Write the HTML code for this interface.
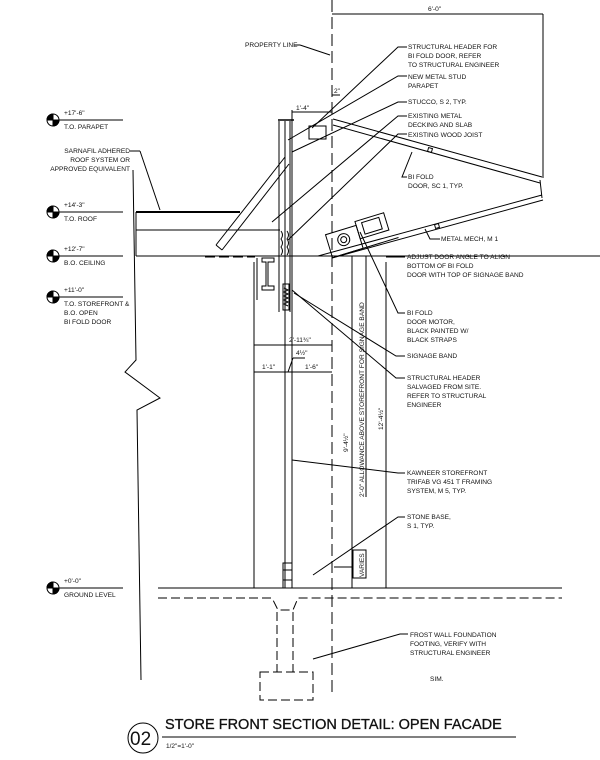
<!DOCTYPE html>
<html><head><meta charset="utf-8"><style>
html,body{margin:0;padding:0;background:#fff}
svg{display:block}
text{font-family:"Liberation Sans",sans-serif;font-size:6.6px;fill:#111}
</style></head><body>
<svg width="600" height="760" viewBox="0 0 600 760" xmlns="http://www.w3.org/2000/svg" stroke="#000" fill="none" stroke-width="1">
<line x1="332" y1="0" x2="332" y2="692" stroke-dasharray="12,5"/>
<text x="245" y="47" stroke="none">PROPERTY LINE</text>
<line x1="294" y1="45" x2="300" y2="45"/>
<line x1="300" y1="45" x2="330" y2="55"/>
<line x1="332" y1="14" x2="543" y2="14"/>
<line x1="543" y1="14" x2="543" y2="178"/>
<text x="428" y="11" stroke="none">6'-0"</text>
<line x1="333" y1="119" x2="542" y2="177"/>
<line x1="333" y1="125" x2="540" y2="183"/>
<rect x="428" y="148" width="4" height="4" transform="rotate(15 430 150)"/>
<line x1="540" y1="180" x2="542" y2="198"/>
<line x1="318" y1="256" x2="542" y2="195"/>
<line x1="332" y1="258" x2="543" y2="200"/>
<rect x="435" y="224" width="4" height="4" transform="rotate(-15 437 226)"/>
<g transform="rotate(-17 355 232)">
<rect x="326" y="226" width="32" height="24"/>
<circle cx="342" cy="236" r="6"/><circle cx="342" cy="236" r="3"/>
<rect x="358" y="222" width="30" height="18"/>
<rect x="364" y="225" width="18" height="12"/>
<line x1="326" y1="250" x2="395" y2="250"/>
</g>
<line x1="292" y1="112" x2="332" y2="112"/>
<line x1="292" y1="110" x2="292" y2="122"/>
<text x="296" y="110" stroke="none">1'-4"</text>
<line x1="332" y1="95" x2="340" y2="95"/><text x="334" y="93" stroke="none">2"</text>
<rect x="309" y="126" width="17" height="13"/>
<line x1="278" y1="120" x2="294" y2="120" stroke-width="1.5"/>
<line x1="279" y1="121" x2="279" y2="312"/>
<line x1="285" y1="121" x2="285" y2="588"/>
<line x1="292" y1="121" x2="292" y2="588"/>
<line x1="290" y1="121" x2="290" y2="312"/>
<path d="M281 231 q3 4 0 8 q3 4 0 8 q3 4 0 8 M287 231 q3 4 0 8 q3 4 0 8 q3 4 0 8"/>
<path d="M283 284 h6 v26 h-6z"/>
<path d="M284 288 l4 2 l-4 2 l4 2 l-4 2 l4 2 l-4 2 l4 2 l-4 2 l4 2"/>
<path d="M262 258 h12 v4 h-6 v24 h6 v4 h-12 v-4 h4 v-24 h-4z"/>
<line x1="257" y1="258" x2="257" y2="300"/>
<line x1="136" y1="212" x2="240" y2="212" stroke-width="2"/>
<line x1="136" y1="230" x2="280" y2="230"/>
<line x1="136" y1="256" x2="600" y2="256"/>
<line x1="136" y1="212" x2="136" y2="256"/>
<line x1="205" y1="257" x2="255" y2="257" stroke-dasharray="10,4"/>
<line x1="216" y1="245" x2="285" y2="157"/>
<line x1="222" y1="250" x2="289" y2="164"/>
<line x1="216" y1="245" x2="222" y2="250"/>
<path d="M133 170 L136 360 L125 372 L160 398 L137 410 L141 680"/>
<text x="130" y="153" stroke="none" text-anchor="end">SARNAFIL ADHERED</text>
<text x="130" y="162" stroke="none" text-anchor="end">ROOF SYSTEM OR</text>
<text x="130" y="171" stroke="none" text-anchor="end">APPROVED EQUIVALENT</text>
<line x1="130" y1="151" x2="140" y2="151"/><line x1="140" y1="151" x2="160" y2="210"/>
<g>
<g transform="translate(0,120)"><circle cx="53" cy="0" r="6" fill="#fff"/><path d="M53 -6 A6 6 0 0 0 47 0 H53Z M53 6 A6 6 0 0 0 59 0 H53Z" fill="#000"/><line x1="47" y1="0" x2="123" y2="0"/><text x="64" y="-5" stroke="none">+17'-6"</text><text x="64" y="9" stroke="none">T.O. PARAPET</text></g>
<g transform="translate(0,212)"><circle cx="53" cy="0" r="6" fill="#fff"/><path d="M53 -6 A6 6 0 0 0 47 0 H53Z M53 6 A6 6 0 0 0 59 0 H53Z" fill="#000"/><line x1="47" y1="0" x2="123" y2="0"/><text x="64" y="-5" stroke="none">+14'-3"</text><text x="64" y="9" stroke="none">T.O. ROOF</text></g>
<g transform="translate(0,256)"><circle cx="53" cy="0" r="6" fill="#fff"/><path d="M53 -6 A6 6 0 0 0 47 0 H53Z M53 6 A6 6 0 0 0 59 0 H53Z" fill="#000"/><line x1="47" y1="0" x2="123" y2="0"/><text x="64" y="-5" stroke="none">+12'-7"</text><text x="64" y="9" stroke="none">B.O. CEILING</text></g>
<g transform="translate(0,297)"><circle cx="53" cy="0" r="6" fill="#fff"/><path d="M53 -6 A6 6 0 0 0 47 0 H53Z M53 6 A6 6 0 0 0 59 0 H53Z" fill="#000"/><line x1="47" y1="0" x2="123" y2="0"/><text x="64" y="-5" stroke="none">+11'-0"</text><text x="64" y="9" stroke="none">T.O. STOREFRONT &amp;</text><text x="64" y="18" stroke="none">B.O. OPEN</text><text x="64" y="27" stroke="none">BI FOLD DOOR</text></g>
<g transform="translate(0,588)"><circle cx="53" cy="0" r="6" fill="#fff"/><path d="M53 -6 A6 6 0 0 0 47 0 H53Z M53 6 A6 6 0 0 0 59 0 H53Z" fill="#000"/><line x1="47" y1="0" x2="123" y2="0"/><text x="64" y="-5" stroke="none">+0'-0"</text><text x="64" y="9" stroke="none">GROUND LEVEL</text></g>
</g>
<line x1="254" y1="262" x2="254" y2="588"/>
<line x1="352" y1="256" x2="352" y2="588"/>
<line x1="386" y1="262" x2="386" y2="588"/>
<line x1="366" y1="256" x2="366" y2="497"/>
<text transform="translate(364,497) rotate(-90)" stroke="none">2'-0" ALLOWANCE ABOVE STOREFRONT FOR SIGNAGE BAND</text>
<text transform="translate(348,452) rotate(-90)" stroke="none">9'-4½"</text>
<text transform="translate(383,430) rotate(-90)" stroke="none">12'-4½"</text>
<rect x="353" y="550" width="13" height="28"/>
<text transform="translate(364,577) rotate(-90)" stroke="none">VARIES</text>
<path d="M334 567 h18 v21"/>
<rect x="283" y="563" width="9" height="25"/>
<line x1="283" y1="570" x2="292" y2="570"/><line x1="283" y1="580" x2="292" y2="580"/>
<line x1="254" y1="345" x2="332" y2="345"/><text x="289" y="342" stroke="none">2'-11¾"</text>
<line x1="254" y1="372" x2="332" y2="372"/><text x="262" y="369" stroke="none">1'-1"</text><text x="305" y="369" stroke="none">1'-6"</text>
<line x1="293" y1="358" x2="305" y2="358"/><line x1="293" y1="358" x2="288" y2="372"/><text x="296" y="355" stroke="none">4½"</text>
<line x1="158" y1="588" x2="562" y2="588"/>
<path d="M158 598 H272 L278 610 H293 L298 598 H562" stroke-dasharray="9,4"/>
<line x1="277" y1="612" x2="277" y2="672" stroke-dasharray="9,4"/>
<line x1="293" y1="612" x2="293" y2="672" stroke-dasharray="9,4"/>
<rect x="260" y="672" width="53" height="28" stroke-dasharray="9,4"/>
<g stroke="none">
<text x="408" y="49">STRUCTURAL HEADER FOR</text><text x="408" y="58">BI FOLD DOOR, REFER</text><text x="408" y="67">TO STRUCTURAL ENGINEER</text>
<text x="408" y="79">NEW METAL STUD</text><text x="408" y="88">PARAPET</text>
<text x="408" y="104">STUCCO, S 2, TYP.</text>
<text x="408" y="118">EXISTING METAL</text><text x="408" y="127">DECKING AND SLAB</text>
<text x="408" y="137">EXISTING WOOD JOIST</text>
<text x="408" y="179">BI FOLD</text><text x="408" y="188">DOOR, SC 1, TYP.</text>
<text x="441" y="241">METAL MECH, M 1</text>
<text x="407" y="259">ADJUST DOOR ANGLE TO ALIGN</text><text x="407" y="268">BOTTOM OF BI FOLD</text><text x="407" y="277">DOOR WITH TOP OF SIGNAGE BAND</text>
<text x="407" y="315">BI FOLD</text><text x="407" y="324">DOOR MOTOR,</text><text x="407" y="333">BLACK PAINTED W/</text><text x="407" y="342">BLACK STRAPS</text>
<text x="407" y="358">SIGNAGE BAND</text>
<text x="407" y="380">STRUCTURAL HEADER</text><text x="407" y="389">SALVAGED FROM SITE.</text><text x="407" y="398">REFER TO STRUCTURAL</text><text x="407" y="407">ENGINEER</text>
<text x="407" y="475">KAWNEER STOREFRONT</text><text x="407" y="484">TRIFAB VG 451 T FRAMING</text><text x="407" y="493">SYSTEM, M 5, TYP.</text>
<text x="407" y="519">STONE BASE,</text><text x="407" y="528">S 1, TYP.</text>
<text x="410" y="637">FROST WALL FOUNDATION</text><text x="410" y="646">FOOTING, VERIFY WITH</text><text x="410" y="655">STRUCTURAL ENGINEER</text>
<text x="430" y="681">SIM.</text>
</g>
<path d="M407 47 H398 L312 128"/>
<path d="M407 76 H398 L288 140"/>
<path d="M407 102 H398 L292 152"/>
<path d="M407 116 H398 L272 222"/>
<path d="M407 134 H398 L288 240"/>
<path d="M407 177 H402 L412 152"/>
<path d="M440 239 H430 L425 229"/>
<path d="M405 257 H386"/>
<path d="M405 313 H398 L360 232"/>
<path d="M405 356 H396 L294 293"/>
<path d="M405 378 H396 L292 290"/>
<path d="M405 473 H398 L292 460"/>
<path d="M405 517 H398 L313 575"/>
<path d="M408 634 H400 L313 659"/>
<circle cx="143" cy="738" r="15"/>
<text x="130" y="745" stroke="none" style="font-size:19px">02</text>
<text x="165" y="729" stroke="none" style="font-size:14.5px;stroke:#111;stroke-width:0.3">STORE FRONT SECTION DETAIL: OPEN FACADE</text>
<line x1="162" y1="737" x2="516" y2="737"/>
<text x="166" y="748" stroke="none" style="font-size:6.5px">1/2"=1'-0"</text>
</svg>
</body></html>
